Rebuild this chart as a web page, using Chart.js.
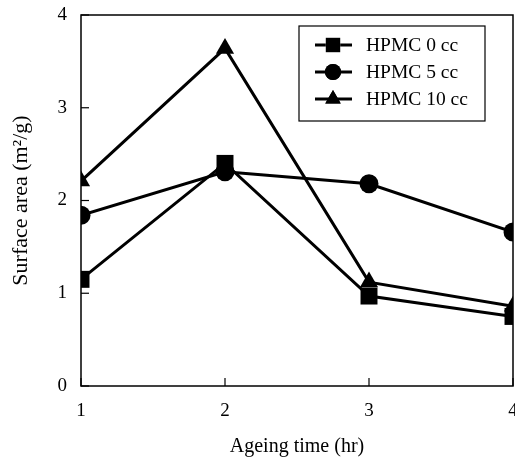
<!DOCTYPE html>
<html>
<head>
<meta charset="utf-8">
<script src="https://cdn.jsdelivr.net/npm/chart.js@4"></script>
<style>
  html, body { margin: 0; padding: 0; background: #fff; }
  #wrap { width: 515px; height: 459px; }
</style>
</head>
<body>
<div id="wrap"><canvas id="chart" width="515" height="459"></canvas></div>
<script>
// values
const ageingTime = [1, 2, 3, 4];
const hpmc0 = [1.15, 2.40, 0.97, 0.75];
const hpmc5 = [1.84, 2.31, 2.18, 1.66];
const hpmc10 = [2.21, 3.64, 1.12, 0.86];
const seriesLabels = ['HPMC 0 cc', 'HPMC 5 cc', 'HPMC 10 cc'];
const pointShapes = ['rect', 'circle', 'triangle'];
const pointSizes = [12, 9.5, 10.5];
const yTicks = [0, 1, 2, 3, 4];

const serif = '"Liberation Serif", "Times New Roman", serif';

function makeSet(i, values) {
    return {
        label: seriesLabels[i],
        data: values.map((v, k) => ({ x: ageingTime[k], y: v })),
        borderColor: '#000',
        backgroundColor: '#000',
        borderWidth: 3,
        pointStyle: pointShapes[i],
        pointRadius: pointSizes[i],
        pointBorderWidth: 0,
        pointBackgroundColor: '#000',
        clip: 0,
        tension: 0,
    };
}

// frame, inward ticks and a boxed legend inside the plot
const framePlugin = {
    id: 'frame',
    afterDraw(chart) {
        const { ctx, chartArea: a, scales } = chart;
        ctx.save();
        ctx.strokeStyle = '#000';
        ctx.lineWidth = 1.5;
        ctx.strokeRect(a.left, a.top, a.right - a.left, a.bottom - a.top);
        ctx.lineWidth = 1.2;
        yTicks.forEach(t => {
            const y = scales.y.getPixelForValue(t);
            ctx.beginPath(); ctx.moveTo(a.left, y); ctx.lineTo(a.left + 8, y); ctx.stroke();
        });
        ageingTime.forEach(t => {
            const x = scales.x.getPixelForValue(t);
            ctx.beginPath(); ctx.moveTo(x, a.bottom); ctx.lineTo(x, a.bottom - 8); ctx.stroke();
        });

        // legend box
        const bx = 299, by = 26, bw = 186, bh = 95;
        ctx.fillStyle = '#fff';
        ctx.fillRect(bx, by, bw, bh);
        ctx.lineWidth = 1.2;
        ctx.strokeRect(bx, by, bw, bh);
        ctx.font = '19.5px ' + serif;
        ctx.textBaseline = 'middle';
        chart.data.datasets.forEach((ds, i) => {
            const y = by + 19 + i * 27;
            ctx.strokeStyle = '#000';
            ctx.lineWidth = 3;
            ctx.beginPath(); ctx.moveTo(315, y); ctx.lineTo(352, y); ctx.stroke();
            Chart.helpers.drawPoint(ctx, {
                pointStyle: ds.pointStyle,
                radius: ds.pointRadius * 0.85,
                borderWidth: 0,
            }, 333, y);
            ctx.fillStyle = '#000';
            ctx.fill();
            ctx.fillText(ds.label, 366, y + 1);
        });
        ctx.restore();
    }
};

new Chart(document.getElementById('chart'), {
    type: 'line',
    data: {
        datasets: [makeSet(0, hpmc0), makeSet(1, hpmc5), makeSet(2, hpmc10)]
    },
    options: {
        responsive: false,
        animation: false,
        devicePixelRatio: 1,
        layout: { autoPadding: false, padding: { top: 15, right: 2, left: 0, bottom: 0 } },
        plugins: { legend: { display: false }, tooltip: { enabled: false } },
        scales: {
            x: {
                type: 'linear',
                min: 1, max: 4,
                afterBuildTicks: s => { s.ticks = ageingTime.map(v => ({ value: v })); },
                afterFit: s => { s.height = 73; s.paddingLeft = 0; s.paddingRight = 0; },
                grid: { display: false, drawTicks: false },
                border: { display: false },
                ticks: { color: '#000', font: { family: serif, size: 19 }, padding: 14, maxRotation: 0 },
                title: { display: true, text: 'Ageing time (hr)', color: '#000',
                         font: { family: serif, size: 20 }, padding: { top: 0, bottom: 0 } }
            },
            y: {
                min: 0, max: 4,
                afterBuildTicks: s => { s.ticks = yTicks.map(v => ({ value: v })); },
                afterFit: s => { s.width = 81; s.paddingTop = 0; s.paddingBottom = 0; },
                grid: { display: false, drawTicks: false },
                border: { display: false },
                ticks: { color: '#000', font: { family: serif, size: 19 }, padding: 14 },
                title: { display: true, color: '#000', font: { family: serif, size: 22 },
                         text: 'Surface area (m\u00B2/g)', padding: { top: 8, bottom: 0 } }
            }
        }
    },
    plugins: [framePlugin]
});
</script>
</body>
</html>
